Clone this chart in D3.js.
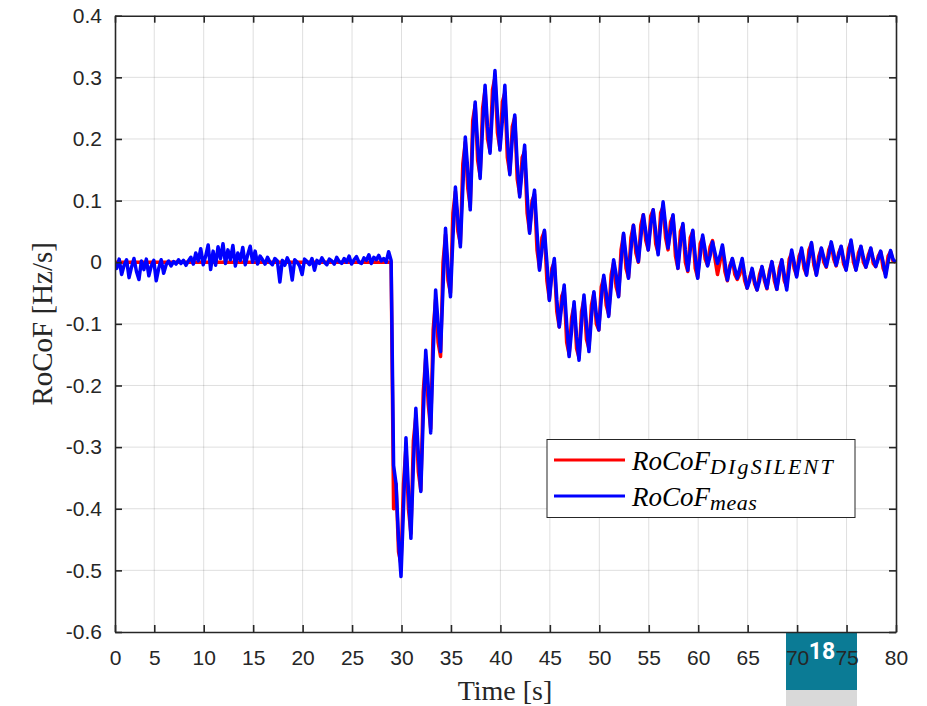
<!DOCTYPE html>
<html>
<head>
<meta charset="utf-8">
<script src="https://cdn.jsdelivr.net/npm/d3@7"></script>
<style>
  body { margin: 0; background: #fff; }
  .tick text { fill: #262626; font-family: "Liberation Sans", Arial, sans-serif; font-size: 21px; }
</style>
</head>
<body>
<div id="chart"></div>
<script>
// sample grid of both RoCoF records (s)
var tStart = 0.95, tStep = 0.25;

var xTicks = [1.03, 5, 10, 15, 20, 25, 30, 35, 40, 45, 50, 55, 60, 65, 70, 75, 80];
var xTickLabels = ["0", "5", "10", "15", "20", "25", "30", "35", "40", "45", "50", "55", "60", "65", "70", "75", "80"];
var yTicks = [-0.6, -0.5, -0.4, -0.3, -0.2, -0.1, 0, 0.1, 0.2, 0.3, 0.4];
var seriesNames = ["DIgSILENT", "meas"];

// measured RoCoF [Hz/s], one row per second (x.20, x.45, x.70, x.95)
var rocofMeas = [0.0,
  -0.01, 0.005, -0.02, -0.005,
  0.004, -0.025, -0.008, 0.006,
  -0.015, -0.028, 0.002, -0.012,
  0.005, -0.022, -0.006, 0.003,
  -0.03, -0.01, 0.004, -0.018,
  -0.004, 0.002, -0.006, 0.001,
  -0.003, 0.004, -0.002, 0.003,
  -0.005, 0.002, 0.008, -0.003,
  0.015, 0.002, 0.022, -0.004,
  0.01, 0.028, -0.012, 0.018,
  -0.005, 0.025, 0.006, 0.03,
  -0.002, 0.02, 0.004, 0.027,
  -0.006, 0.015, 0.003, 0.024,
  -0.004, 0.012, 0.026, 0.0,
  0.018, -0.003, 0.01, 0.004,
  -0.003, 0.008, 0.0, -0.004,
  0.006, 0.002, -0.032, 0.003,
  -0.005, 0.007, -0.002, -0.029,
  0.004, 0.0, -0.006, -0.02,
  0.005, 0.001, -0.004, 0.006,
  -0.013, 0.003, -0.002, 0.007,
  0.0, -0.004, 0.005, 0.002,
  -0.003, 0.008, 0.001, -0.002,
  0.006, 0.0, 0.01, -0.003,
  0.004, 0.009, 0.0, -0.002,
  0.007, 0.003, 0.012, -0.002,
  0.008, 0.004, 0.011, 0.002,
  0.006, 0.0, 0.017, 0.003,
  -0.33, -0.36, -0.45, -0.51,
  -0.40, -0.285, -0.37, -0.448,
  -0.33, -0.237, -0.31, -0.372,
  -0.25, -0.143, -0.20, -0.277,
  -0.15, -0.045, -0.10, -0.145,
  -0.04, 0.055, -0.01, -0.056,
  0.04, 0.122, 0.07, 0.025,
  0.12, 0.203, 0.15, 0.085,
  0.20, 0.26, 0.19, 0.136,
  0.22, 0.287, 0.22, 0.177,
  0.25, 0.311, 0.24, 0.182,
  0.23, 0.287, 0.20, 0.142,
  0.20, 0.239, 0.16, 0.106,
  0.15, 0.19, 0.11, 0.047,
  0.09, 0.117, 0.05, -0.013,
  0.02, 0.052, 0.0, -0.062,
  -0.02, 0.006, -0.06, -0.105,
  -0.07, -0.037, -0.10, -0.153,
  -0.11, -0.064, -0.12, -0.159,
  -0.10, -0.053, -0.10, -0.145,
  -0.09, -0.048, -0.085, -0.11,
  -0.06, -0.021, -0.05, -0.088,
  -0.04, 0.004, -0.02, -0.056,
  0.0, 0.047, 0.01, -0.026,
  0.02, 0.06, 0.03, 0.001,
  0.04, 0.077, 0.05, 0.02,
  0.06, 0.085, 0.05, 0.012,
  0.06, 0.098, 0.06, 0.023,
  0.05, 0.077, 0.03, -0.01,
  0.03, 0.063, 0.02, -0.013,
  0.02, 0.052, 0.01, -0.026,
  0.01, 0.044, 0.02, -0.006,
  0.01, 0.033, 0.015, -0.002,
  0.01, 0.028, 0.0, -0.029,
  -0.01, 0.006, -0.01, -0.026,
  -0.01, 0.006, -0.02, -0.042,
  -0.03, -0.01, -0.03, -0.045,
  -0.03, -0.007, -0.025, -0.042,
  -0.02, 0.001, -0.02, -0.044,
  -0.02, 0.004, -0.02, -0.045,
  -0.01, 0.02, 0.0, -0.024,
  0.0, 0.023, 0.0, -0.021,
  0.005, 0.032, 0.005, -0.021,
  0.0, 0.023, 0.008, -0.007,
  0.01, 0.033, 0.015, -0.005,
  0.01, 0.026, 0.005, -0.013,
  0.01, 0.036, 0.01, -0.013,
  0.005, 0.026, 0.008, -0.008,
  0.005, 0.023, 0.005, -0.007,
  0.005, 0.018, 0.0, -0.024,
  0.0, 0.019, 0.005, 0.0
];

// DIgSILENT simulated RoCoF [Hz/s], same grid
var rocofSim = [0,
  0, 0, 0, 0,  0, 0, 0, 0,  0, 0, 0, 0,  0, 0, 0, 0,
  0, 0, 0, 0,  0, 0, 0, 0,  0, 0, 0, 0,  0, 0, 0, 0,
  0, 0, 0, 0,  0, 0, 0, 0,  0, 0, 0, 0,  0, 0, 0, 0,
  0, 0, 0, 0,  0, 0, 0, 0,  0, 0, 0, 0,  0, 0, 0, 0,
  0, 0, 0, 0,  0, 0, 0, 0,  0, 0, 0, 0,  0, 0, 0, 0,
  0, 0, 0, 0,  0, 0, 0, 0,  0, 0, 0, 0,  0, 0, 0, 0,
  0, 0, 0, 0,  0, 0, 0, 0,  0, 0, 0, 0,  0, 0, 0, 0,
  -0.40, -0.36, -0.47, -0.49,
  -0.36, -0.30, -0.40, -0.44,
  -0.29, -0.25, -0.34, -0.37,
  -0.21, -0.155, -0.23, -0.27,
  -0.11, -0.06, -0.13, -0.153,
  0.0, 0.045, -0.03, -0.05,
  0.08, 0.115, 0.05, 0.03,
  0.16, 0.195, 0.12, 0.09,
  0.23, 0.255, 0.165, 0.14,
  0.25, 0.28, 0.20, 0.18,
  0.28, 0.30, 0.21, 0.185,
  0.26, 0.275, 0.17, 0.145,
  0.22, 0.235, 0.135, 0.11,
  0.17, 0.18, 0.08, 0.05,
  0.10, 0.11, 0.02, -0.01,
  0.04, 0.05, -0.03, -0.06,
  -0.01, 0.0, -0.08, -0.105,
  -0.055, -0.045, -0.13, -0.15,
  -0.09, -0.07, -0.14, -0.155,
  -0.08, -0.06, -0.125, -0.14,
  -0.07, -0.05, -0.10, -0.11,
  -0.04, -0.025, -0.07, -0.085,
  -0.02, 0.0, -0.04, -0.055,
  0.02, 0.045, -0.01, -0.025,
  0.04, 0.06, 0.015, 0.0,
  0.06, 0.077, 0.035, 0.02,
  0.075, 0.085, 0.03, 0.015,
  0.08, 0.09, 0.04, 0.02,
  0.065, 0.075, 0.01, -0.01,
  0.05, 0.06, 0.0, -0.015,
  0.04, 0.05, -0.01, -0.025,
  0.03, 0.04, 0.005, -0.005,
  0.025, 0.035, 0.005, -0.02,
  0.0, 0.025, -0.015, -0.03,
  -0.005, 0.005, -0.02, -0.028,
  -0.02, 0.0, -0.03, -0.042,
  -0.025, -0.012, -0.035, -0.045,
  -0.02, -0.008, -0.03, -0.043,
  -0.015, 0.0, -0.03, -0.044,
  -0.01, 0.003, -0.03, -0.04,
  0.005, 0.015, -0.01, -0.022,
  0.01, 0.02, -0.01, -0.02,
  0.02, 0.03, -0.005, -0.02,
  0.01, 0.022, 0.0, -0.008,
  0.02, 0.03, 0.005, -0.006,
  0.015, 0.025, -0.003, -0.012,
  0.022, 0.033, 0.0, -0.012,
  0.015, 0.025, 0.0, -0.008,
  0.012, 0.022, -0.002, -0.007,
  0.01, 0.017, -0.01, -0.02,
  0.01, 0.017, 0.002, 0.0
];

var W = 927, H = 706;
var margin = {left: 115, top: 15.7, right: 31, bottom: 74};
var axisColor = "#262626";

var svg = d3.select("#chart").append("svg")
  .attr("width", W).attr("height", H)
  .style("font-family", "Liberation Sans, Arial, sans-serif");

var x = d3.scaleLinear().domain([1.03, 80]).range([margin.left, W - margin.right]);
var y = d3.scaleLinear().domain([-0.6, 0.4]).range([H - margin.bottom, margin.top]);

// slide number badge (sits behind the tick labels)
svg.append("rect").attr("x", 786).attr("y", 633).attr("width", 71).attr("height", 57).attr("fill", "#0b7b95");
svg.append("rect").attr("x", 786).attr("y", 690).attr("width", 71).attr("height", 16).attr("fill", "#d9d9d9");

// grid
var grid = svg.append("g").attr("stroke", axisColor).attr("stroke-opacity", 0.15).attr("stroke-width", 1);
grid.selectAll(".gx").data(xTicks.slice(1, -1)).enter().append("line")
  .attr("x1", function(d){ return x(d); }).attr("x2", function(d){ return x(d); })
  .attr("y1", y(-0.6)).attr("y2", y(0.4));
grid.selectAll(".gy").data(yTicks.slice(1, -1)).enter().append("line")
  .attr("y1", function(d){ return y(d); }).attr("y2", function(d){ return y(d); })
  .attr("x1", x(1.03)).attr("x2", x(80));

svg.append("clipPath").attr("id", "clip").append("rect")
  .attr("x", x(1.03)).attr("y", y(0.4)).attr("width", x(80) - x(1.03)).attr("height", y(-0.6) - y(0.4));

var line = d3.line()
  .x(function(d, i){ return x(tStart + i * tStep); })
  .y(function(d){ return y(d); });

var plot = svg.append("g").attr("clip-path", "url(#clip)");
plot.append("path").datum(rocofSim).attr("d", line)
  .attr("fill", "none").attr("stroke", "#ff0000").attr("stroke-width", 3.5).attr("stroke-linejoin", "round");
plot.append("path").datum(rocofMeas).attr("d", line)
  .attr("fill", "none").attr("stroke", "#0000ff").attr("stroke-width", 3.5).attr("stroke-linejoin", "round");

// axes (ticks point inward, box on all four sides)
var xAxis = svg.append("g").attr("transform", "translate(0," + y(-0.6) + ")")
  .call(d3.axisBottom(x).tickValues(xTicks).tickSizeInner(-7).tickSizeOuter(0).tickPadding(18)
    .tickFormat(function(d, i){ return xTickLabels[i]; }));
var yAxis = svg.append("g").attr("transform", "translate(" + x(1.03) + ",0)")
  .call(d3.axisLeft(y).tickValues(yTicks).tickSizeInner(-7).tickSizeOuter(0).tickPadding(13)
    .tickFormat(function(d){ return d === 0 ? "0" : d.toFixed(1); }));
var xTop = svg.append("g").attr("transform", "translate(0," + y(0.4) + ")")
  .call(d3.axisTop(x).tickValues(xTicks).tickSizeInner(-7).tickSizeOuter(0).tickFormat(""));
var yRight = svg.append("g").attr("transform", "translate(" + x(80) + ",0)")
  .call(d3.axisRight(y).tickValues(yTicks).tickSizeInner(-7).tickSizeOuter(0).tickFormat(""));
[xAxis, yAxis, xTop, yRight].forEach(function(a){
  a.selectAll("path, line").attr("stroke", axisColor).attr("stroke-width", 1.6);
});

// axis titles
svg.append("text").attr("x", 505).attr("y", 700).attr("text-anchor", "middle")
  .style("font-family", "Liberation Serif, Times New Roman, serif").style("font-size", "28px").attr("fill", axisColor)
  .text("Time [s]");
svg.append("text").attr("transform", "translate(52," + ((y(0.4) + y(-0.6)) / 2) + ") rotate(-90)")
  .attr("text-anchor", "middle")
  .style("font-family", "Liberation Serif, Times New Roman, serif").style("font-size", "29px").attr("fill", axisColor)
  .text("RoCoF [Hz/s]");

// legend
var legend = svg.append("g");
legend.append("rect").attr("x", 547).attr("y", 439.5).attr("width", 308).attr("height", 78)
  .attr("fill", "#fff").attr("stroke", axisColor).attr("stroke-width", 1);
var legColors = ["#ff0000", "#0000ff"];
seriesNames.forEach(function(name, i){
  var ly = 460 + i * 36;
  legend.append("line").attr("x1", 554).attr("x2", 625).attr("y1", ly).attr("y2", ly)
    .attr("stroke", legColors[i]).attr("stroke-width", 3);
  var t = legend.append("text").attr("x", 632).attr("y", ly + 9.5)
    .style("font-family", "Liberation Serif, Times New Roman, serif").style("font-style", "italic")
    .style("font-size", "27px").attr("fill", "#000");
  t.append("tspan").text("RoCoF");
  t.append("tspan").attr("dy", 4).style("font-size", "22px").style("letter-spacing", i === 0 ? "2.2px" : "0.5px").text(name);
});

svg.append("text").attr("x", 822).attr("y", 659).attr("text-anchor", "middle")
  .style("font-family", "Roboto, sans-serif").style("font-weight", "bold").style("font-size", "23px")
  .attr("fill", "#fff").text("18");
</script>
</body>
</html>
